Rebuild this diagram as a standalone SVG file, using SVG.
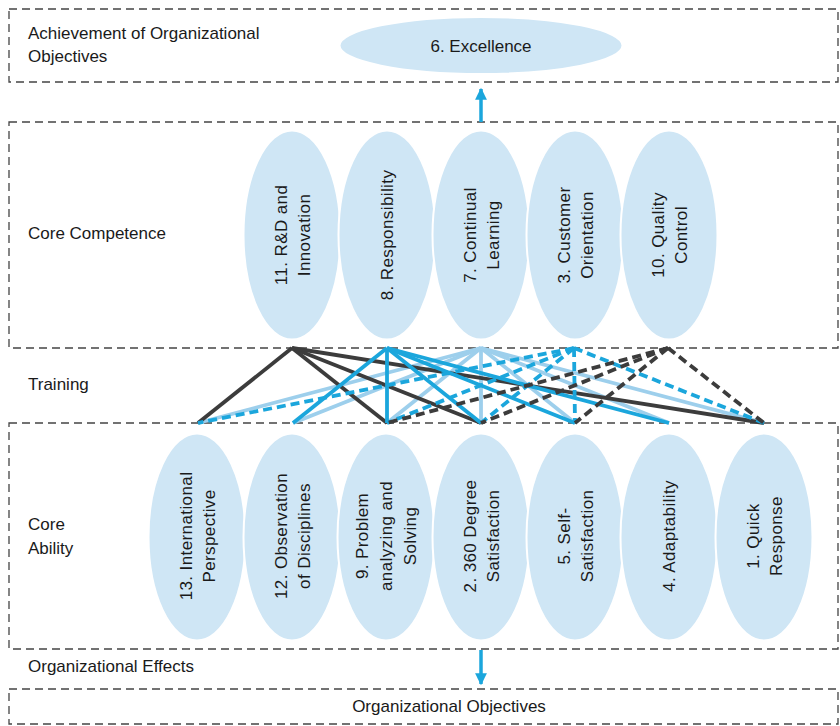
<svg xmlns="http://www.w3.org/2000/svg" width="840" height="726" viewBox="0 0 840 726">
<defs>
<style>
.box{fill:none;stroke:#444;stroke-width:1.3;stroke-dasharray:8 5}
.ell{fill:#cfe6f5;stroke:#fff;stroke-width:2}
.lbl{font-family:"Liberation Sans",Arial,sans-serif;font-size:17px;fill:#1a1a1a}
.et{font-family:"Liberation Sans",Arial,sans-serif;font-size:17px;letter-spacing:0.4px;fill:#1a1a1a;text-anchor:middle;dominant-baseline:central}
.dk{stroke:#3c3c3c;stroke-width:3.8;fill:none}
.sb{stroke:#1ba6dc;stroke-width:3.8;fill:none}
.lb{stroke:#9dcfec;stroke-width:3.8;fill:none}
.dd{stroke:#3c3c3c;stroke-width:3.8;fill:none;stroke-dasharray:9 5}
.bd{stroke:#1ba6dc;stroke-width:3.8;fill:none;stroke-dasharray:9 5}
.arr{stroke:#1ba6dc;stroke-width:3.5;fill:none}
</style>
<marker id="ah" viewBox="0 0 10 10" refX="9" refY="5" markerWidth="4" markerHeight="3.4" orient="auto" markerUnits="strokeWidth">
<path d="M0,0 L10,5 L0,10 z" fill="#1ba6dc"/>
</marker>
</defs>

<g id="frames">
<rect class="box" x="9" y="9" width="829" height="73"/>
<rect class="box" x="9" y="122" width="829" height="226"/>
<rect class="box" x="9" y="423" width="829" height="226"/>
<rect class="box" x="9" y="689" width="829" height="35"/>
</g>

<g id="section-labels">
<text class="lbl" x="28" y="38.5">Achievement of Organizational</text>
<text class="lbl" x="28" y="61.5">Objectives</text>
<text class="lbl" x="28" y="239">Core Competence</text>
<text class="lbl" x="28" y="390">Training</text>
<text class="lbl" x="28" y="530">Core</text>
<text class="lbl" x="28" y="554">Ability</text>
<text class="lbl" x="28" y="672">Organizational Effects</text>
<text class="lbl" x="449" y="712" text-anchor="middle">Organizational Objectives</text>
</g>

<g id="connectors">
<!-- 7. Continual Learning (light blue) -->
<line class="lb" x1="481" y1="348" x2="198" y2="423"/>
<line class="lb" x1="481" y1="348" x2="293" y2="423"/>
<line class="lb" x1="481" y1="348" x2="387" y2="423"/>
<line class="lb" x1="481" y1="348" x2="481" y2="423"/>
<line class="lb" x1="481" y1="348" x2="575" y2="423"/>
<line class="lb" x1="481" y1="348" x2="669" y2="423"/>
<line class="lb" x1="481" y1="348" x2="764" y2="423"/>
<!-- 11. R&D and Innovation (dark solid) -->
<line class="dk" x1="292" y1="348" x2="198" y2="423"/>
<line class="dk" x1="292" y1="348" x2="387" y2="423"/>
<line class="dk" x1="292" y1="348" x2="481" y2="423"/>
<line class="dk" x1="292" y1="348" x2="764" y2="423"/>
<!-- 8. Responsibility (blue solid) -->
<line class="sb" x1="387" y1="348" x2="293" y2="423"/>
<line class="sb" x1="387" y1="348" x2="387" y2="423"/>
<line class="sb" x1="387" y1="348" x2="481" y2="423"/>
<line class="sb" x1="387" y1="348" x2="575" y2="423"/>
<line class="sb" x1="387" y1="348" x2="669" y2="423"/>
<!-- 3. Customer Orientation (blue dashed) -->
<line class="bd" x1="574" y1="348" x2="198" y2="423"/>
<line class="bd" x1="574" y1="348" x2="387" y2="423"/>
<line class="bd" x1="574" y1="348" x2="481" y2="423"/>
<line class="bd" x1="574" y1="348" x2="575" y2="423"/>
<line class="bd" x1="574" y1="348" x2="764" y2="423"/>
<!-- 10. Quality Control (dark dashed) -->
<line class="dd" x1="668" y1="348" x2="387" y2="423"/>
<line class="dd" x1="668" y1="348" x2="481" y2="423"/>
<line class="dd" x1="668" y1="348" x2="575" y2="423"/>
<line class="dd" x1="668" y1="348" x2="764" y2="423"/>
<!-- arrows -->
<line class="arr" x1="481" y1="122" x2="481" y2="89" marker-end="url(#ah)"/>
<line class="arr" x1="481" y1="650" x2="481" y2="684" marker-end="url(#ah)"/>
</g>

<g id="n6">
<ellipse class="ell" cx="481" cy="45.5" rx="141.5" ry="28.5"/>
<text class="lbl" x="481" y="52" text-anchor="middle">6. Excellence</text>
</g>

<g id="n11">
<ellipse class="ell" cx="292" cy="235" rx="48.5" ry="104.5"/>
<text class="et" transform="translate(292,235) rotate(-90)"><tspan x="0" y="-11.5">11. R&amp;D and</tspan><tspan x="0" y="11.5">Innovation</tspan></text>
</g>
<g id="n8">
<ellipse class="ell" cx="387" cy="235" rx="48.5" ry="104.5"/>
<text class="et" transform="translate(387,235) rotate(-90)"><tspan x="0" y="0">8. Responsibility</tspan></text>
</g>
<g id="n7">
<ellipse class="ell" cx="481" cy="235" rx="48.5" ry="104.5"/>
<text class="et" transform="translate(481,235) rotate(-90)"><tspan x="0" y="-11.5">7. Continual</tspan><tspan x="0" y="11.5">Learning</tspan></text>
</g>
<g id="n3">
<ellipse class="ell" cx="575" cy="235" rx="48.5" ry="104.5"/>
<text class="et" transform="translate(575,235) rotate(-90)"><tspan x="0" y="-11.5">3. Customer</tspan><tspan x="0" y="11.5">Orientation</tspan></text>
</g>
<g id="n10">
<ellipse class="ell" cx="669" cy="235" rx="48.5" ry="104.5"/>
<text class="et" transform="translate(669,235) rotate(-90)"><tspan x="0" y="-11.5">10. Quality</tspan><tspan x="0" y="11.5">Control</tspan></text>
</g>

<g id="n13">
<ellipse class="ell" cx="197" cy="537" rx="48.5" ry="103.5"/>
<text class="et" transform="translate(197,536) rotate(-90)"><tspan x="0" y="-11.5">13. International</tspan><tspan x="0" y="11.5">Perspective</tspan></text>
</g>
<g id="n12">
<ellipse class="ell" cx="292" cy="537" rx="48.5" ry="103.5"/>
<text class="et" transform="translate(292,536) rotate(-90)"><tspan x="0" y="-11.5">12. Observation</tspan><tspan x="0" y="11.5">of Disciplines</tspan></text>
</g>
<g id="n9">
<ellipse class="ell" cx="386" cy="537" rx="48.5" ry="103.5"/>
<text class="et" transform="translate(386,536) rotate(-90)"><tspan x="0" y="-24">9. Problem</tspan><tspan x="0" y="0">analyzing and</tspan><tspan x="0" y="24">Solving</tspan></text>
</g>
<g id="n2">
<ellipse class="ell" cx="481" cy="537" rx="48.5" ry="103.5"/>
<text class="et" transform="translate(481,536) rotate(-90)"><tspan x="0" y="-11.5">2. 360 Degree</tspan><tspan x="0" y="11.5">Satisfaction</tspan></text>
</g>
<g id="n5">
<ellipse class="ell" cx="575" cy="537" rx="48.5" ry="103.5"/>
<text class="et" transform="translate(575,536) rotate(-90)"><tspan x="0" y="-11.5">5. Self-</tspan><tspan x="0" y="11.5">Satisfaction</tspan></text>
</g>
<g id="n4">
<ellipse class="ell" cx="669" cy="537" rx="48.5" ry="103.5"/>
<text class="et" transform="translate(669,536) rotate(-90)"><tspan x="0" y="0">4. Adaptability</tspan></text>
</g>
<g id="n1">
<ellipse class="ell" cx="764" cy="537" rx="48.5" ry="103.5"/>
<text class="et" transform="translate(764,536) rotate(-90)"><tspan x="0" y="-11.5">1. Quick</tspan><tspan x="0" y="11.5">Response</tspan></text>
</g>
</svg>
